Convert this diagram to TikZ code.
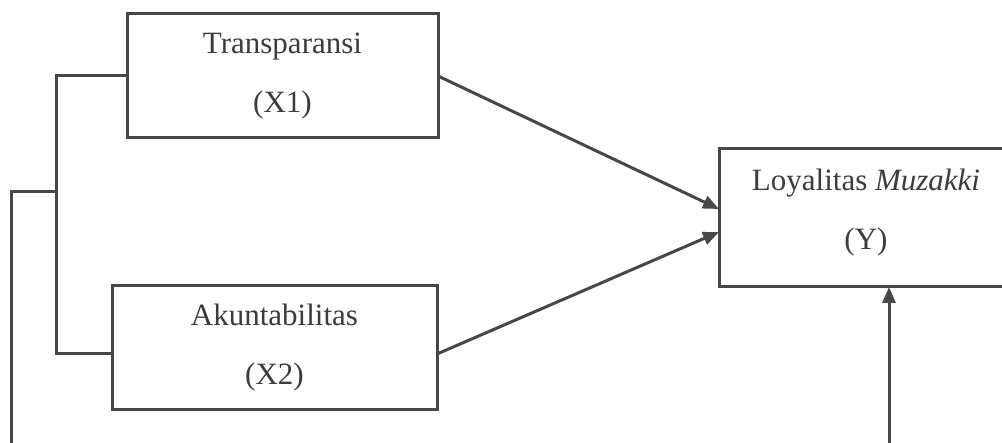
\documentclass[tikz,border=0pt]{standalone}
\usepackage{fontspec}
\setmainfont{Liberation Serif}
\usetikzlibrary{arrows.meta}

\definecolor{linegrey}{HTML}{474747}
\definecolor{textgrey}{HTML}{3C3C3C}

\tikzset{
    varbox/.style={draw=linegrey,line width=1.5pt,rectangle,outer sep=0pt,
        inner sep=0pt,align=center,text=textgrey,
        font=\fontsize{15.5}{29.5}\selectfont},
    link/.style={draw=linegrey,line width=1.5pt},
    arrowlink/.style={link,-{Triangle[length=8pt,width=6.5pt]}}
}

\begin{document}
\begin{tikzpicture}[x=0.5pt,y=-0.5pt]
    \clip (0,0) rectangle (1002,443);
    \fill[white] (0,0) rectangle (1002,443);

    \node[varbox,minimum width=155.5pt,minimum height=62pt] (trans) at (282.5,76) {Transparansi\\(X1)};
    \node[varbox,minimum width=162.5pt,minimum height=62pt] (akun) at (274.5,348) {Akuntabilitas\\(X2)};
    \node[varbox,minimum width=150pt,minimum height=69pt] (loyal) at (869,218) {};
    \node[text=textgrey,align=center,font=\fontsize{15.5}{29.5}\selectfont] (loyaltext) at (866,213) {Loyalitas \textit{Muzakki}\\(Y)};

    \coordinate (join) at (56,192);
    \coordinate (rootend) at (11,192);
    \coordinate (rootfoot) at (11,460);
    \coordinate (yfoot) at (889,460);

    % bracket round the two variables
    \draw[link] (trans.west) -| (join) |- ([yshift=-3pt]akun.west);
    \draw[link] (join) -- (rootend) -- (rootfoot);

    % arrows into Y
    \draw[arrowlink] (trans.east) -- ([yshift=4.5pt]loyal.west);
    \draw[arrowlink] ([yshift=-3pt]akun.east) -- ([yshift=-7pt]loyal.west);
    \draw[arrowlink] (yfoot) -- (yfoot |- loyal.south);
\end{tikzpicture}
\end{document}
